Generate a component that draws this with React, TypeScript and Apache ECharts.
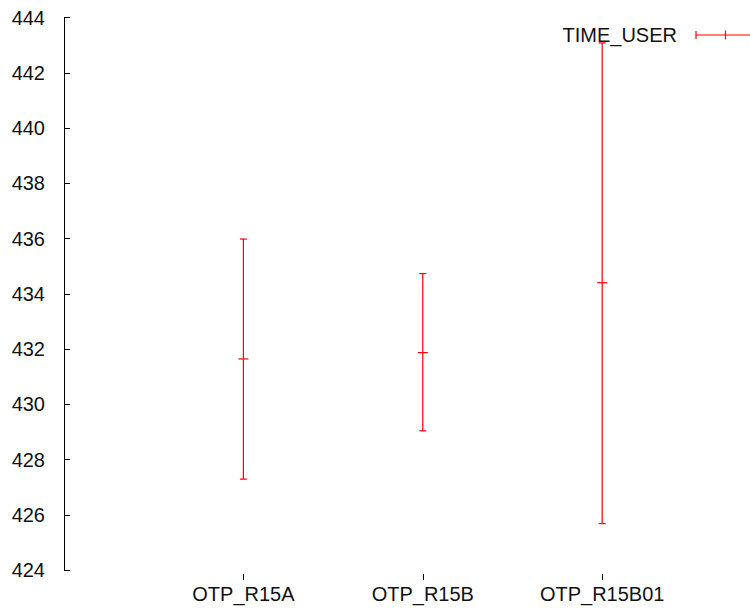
import React, { useEffect, useRef } from "react";
import * as echarts from "echarts";

const categories = ["OTP_R15A", "OTP_R15B", "OTP_R15B01"];
const means = [431.64, 431.87, 434.4];
const lows = [427.29, 429.04, 425.68];
const highs = [435.98, 434.73, 443.08];
const seriesName = "TIME_USER";
const yMin = 424;
const yMax = 444;
const yStep = 2;
const xMax = 3.824;

const FONT = "'Liberation Sans', Arial, sans-serif";
const RED = "#ff0000";

export default function App() {
  const ref = useRef<HTMLDivElement>(null);
  useEffect(() => {
    if (!ref.current) return;
    const chart = echarts.init(ref.current, null, { renderer: "svg" });
    const data = categories.map((c, i) => [i + 1, lows[i], highs[i], means[i]]);
    chart.setOption({
      animation: false,
      backgroundColor: "#ffffff",
      grid: { left: 64, right: 0, top: 17.5, bottom: 41 },
      xAxis: {
        type: "value",
        min: 0,
        max: xMax,
        offset: 4,
        axisLine: { show: false },
        splitLine: { show: false },
        axisTick: {
          show: true,
          customValues: [1, 2, 3],
          length: 6,
          lineStyle: { color: "#000", width: 1 },
        },
        axisLabel: {
          customValues: [1, 2, 3],
          formatter: (v: number) => categories[Math.round(v) - 1] ?? "",
          fontSize: 20,
          fontFamily: FONT,
          color: "#111",
          margin: 10,
        },
      },
      yAxis: {
        type: "value",
        min: yMin,
        max: yMax,
        interval: yStep,
        axisLine: { show: true, lineStyle: { color: "#000", width: 1 } },
        axisTick: { show: true, inside: true, length: 6, lineStyle: { color: "#000" } },
        splitLine: { show: false },
        axisLabel: {
          fontSize: 20,
          fontFamily: FONT,
          color: "#111",
          margin: 19,
        },
      },
      series: [
        {
          type: "custom",
          name: seriesName,
          data,
          encode: { x: 0, y: [1, 2] },
          renderItem: (params: any, api: any) => {
            const x = api.value(0);
            const pLow = api.coord([x, api.value(1)]);
            const pHigh = api.coord([x, api.value(2)]);
            const pMean = api.coord([x, api.value(3)]);
            const style = { stroke: RED, lineWidth: 1.2 };
            const cap = 3.5;
            const tick = 5;
            return {
              type: "group",
              children: [
                { type: "line", shape: { x1: pLow[0], y1: pLow[1], x2: pHigh[0], y2: pHigh[1] }, style },
                { type: "line", shape: { x1: pLow[0] - cap, y1: pLow[1], x2: pLow[0] + cap, y2: pLow[1] }, style },
                { type: "line", shape: { x1: pHigh[0] - cap, y1: pHigh[1], x2: pHigh[0] + cap, y2: pHigh[1] }, style },
                { type: "line", shape: { x1: pMean[0] - tick, y1: pMean[1], x2: pMean[0] + tick, y2: pMean[1] }, style },
              ],
            };
          },
        },
      ],
      graphic: [
        {
          type: "text",
          x: 677,
          y: 35,
          style: {
            text: seriesName,
            fontSize: 20,
            fontFamily: FONT,
            fill: "#111",
            align: "right",
            verticalAlign: "middle",
          },
        },
        { type: "line", shape: { x1: 696, y1: 35, x2: 750, y2: 35 }, style: { stroke: RED, lineWidth: 1.2 } },
        { type: "line", shape: { x1: 696, y1: 31, x2: 696, y2: 39 }, style: { stroke: RED, lineWidth: 1.2 } },
        { type: "line", shape: { x1: 725.5, y1: 30.5, x2: 725.5, y2: 39.5 }, style: { stroke: RED, lineWidth: 1.2 } },
      ],
    });
    return () => chart.dispose();
  }, []);
  return (
    <div
      ref={ref}
      style={{ position: "fixed", left: 0, top: 0, width: 750, height: 611, background: "#fff" }}
    />
  );
}
